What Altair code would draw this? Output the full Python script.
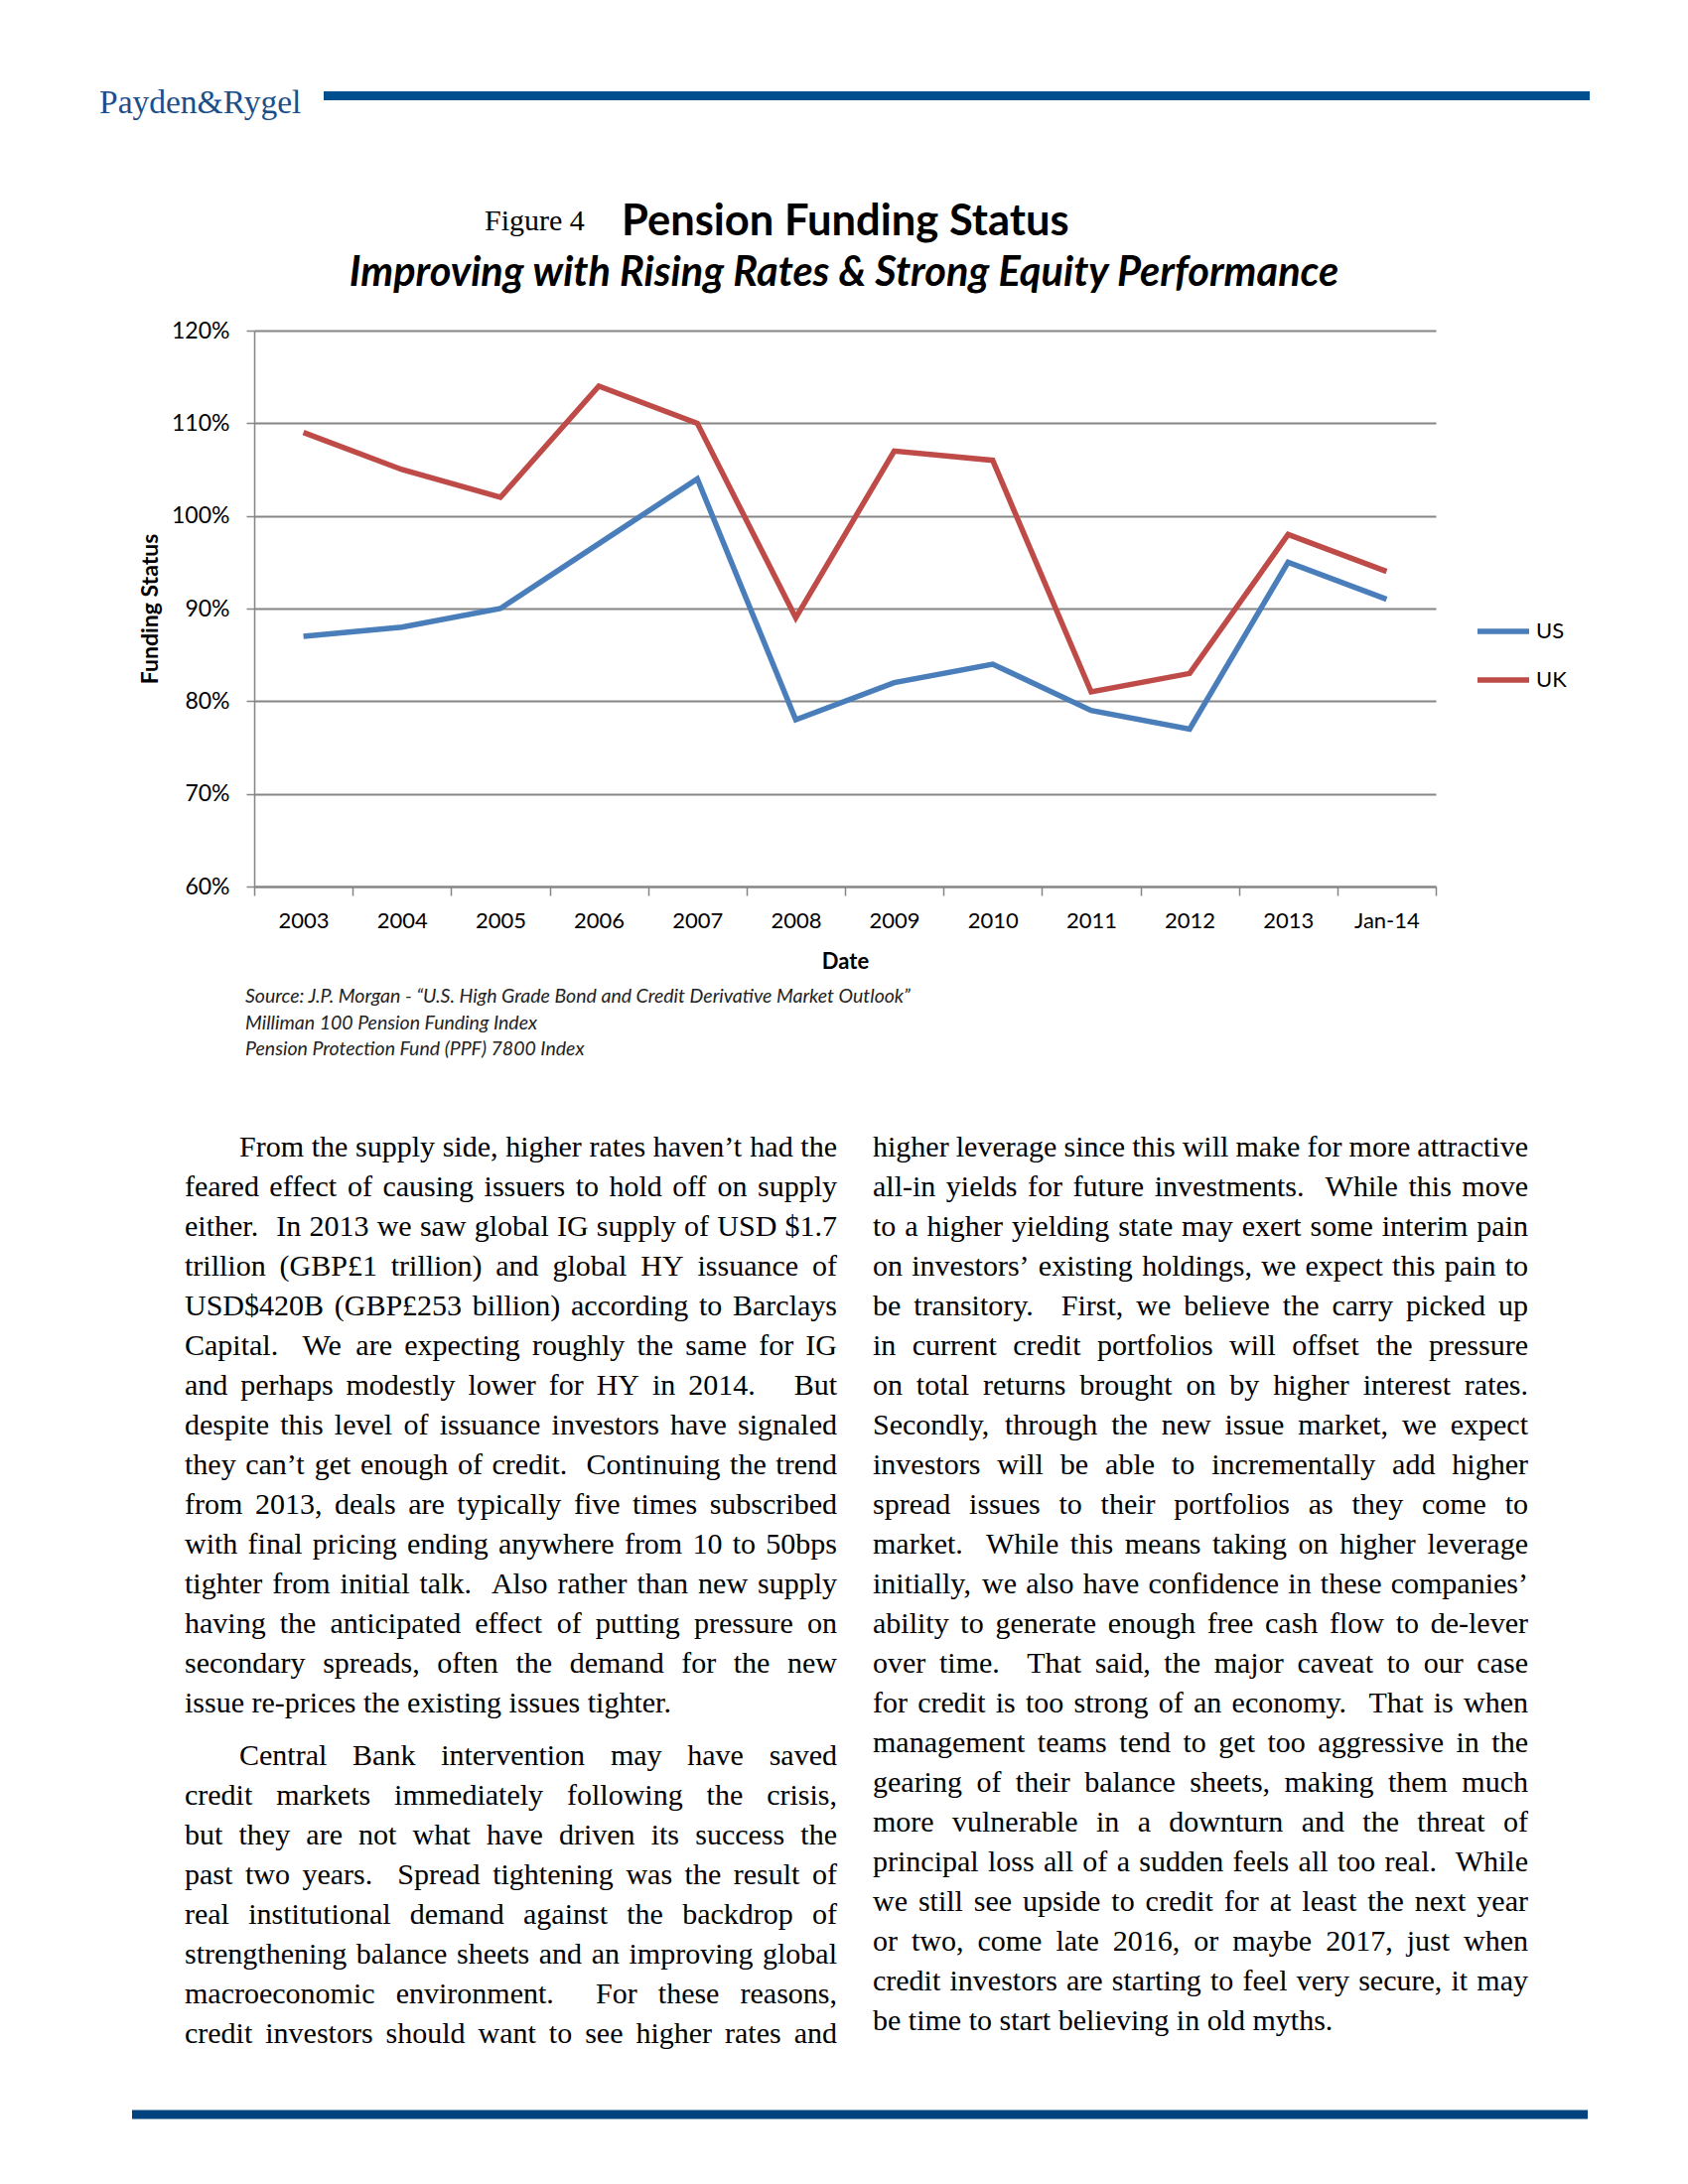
import re
import altair as alt
import pandas as pd

# ---------------- data ----------------
years = ["2003", "2004", "2005", "2006", "2007", "2008", "2009", "2010",
         "2011", "2012", "2013", "Jan-14"]
us = [87, 88, 90, 97, 104, 78, 82, 84, 79, 77, 95, 91]
uk = [109, 105, 102, 114, 110, 89, 107, 106, 81, 83, 98, 94]
series_names = ["US", "UK"]
y_ticks = [60, 70, 80, 90, 100, 110, 120]

logo_text = "Payden&Rygel"
figure_label = "Figure 4"
title_text = "Pension Funding Status"
subtitle_text = "Improving with Rising Rates & Strong Equity Performance"
x_title = "Date"
y_title = "Funding Status"
source_lines = [
    "Source: J.P. Morgan - \u201cU.S. High Grade Bond and Credit Derivative Market Outlook\u201d",
    "Milliman 100 Pension Funding Index",
    "Pension Protection Fund (PPF) 7800 Index",
]

left_par1 = [
    "From the supply side, higher rates haven\u2019t had the",
    "feared effect of causing issuers to hold off on supply",
    "either.  In 2013 we saw global IG supply of USD $1.7",
    "trillion (GBP\u00a31 trillion) and global HY issuance of",
    "USD$420B (GBP\u00a3253 billion) according to Barclays",
    "Capital.  We are expecting roughly the same for IG",
    "and perhaps modestly lower for HY in 2014.   But",
    "despite this level of issuance investors have signaled",
    "they can\u2019t get enough of credit.  Continuing the trend",
    "from 2013, deals are typically five times subscribed",
    "with final pricing ending anywhere from 10 to 50bps",
    "tighter from initial talk.  Also rather than new supply",
    "having the anticipated effect of putting pressure on",
    "secondary spreads, often the demand for the new",
    "issue re-prices the existing issues tighter.",
]
left_par2 = [
    "Central Bank intervention may have saved",
    "credit markets immediately following the crisis,",
    "but they are not what have driven its success the",
    "past two years.  Spread tightening was the result of",
    "real institutional demand against the backdrop of",
    "strengthening balance sheets and an improving global",
    "macroeconomic environment.  For these reasons,",
    "credit investors should want to see higher rates and",
]
right_par2 = [
    "higher leverage since this will make for more attractive",
    "all-in yields for future investments.  While this move",
    "to a higher yielding state may exert some interim pain",
    "on investors\u2019 existing holdings, we expect this pain to",
    "be transitory.  First, we believe the carry picked up",
    "in current credit portfolios will offset the pressure",
    "on total returns brought on by higher interest rates.",
    "Secondly, through the new issue market, we expect",
    "investors will be able to incrementally add higher",
    "spread issues to their portfolios as they come to",
    "market.  While this means taking on higher leverage",
    "initially, we also have confidence in these companies\u2019",
    "ability to generate enough free cash flow to de-lever",
    "over time.  That said, the major caveat to our case",
    "for credit is too strong of an economy.  That is when",
    "management teams tend to get too aggressive in the",
    "gearing of their balance sheets, making them much",
    "more vulnerable in a downturn and the threat of",
    "principal loss all of a sudden feels all too real.  While",
    "we still see upside to credit for at least the next year",
    "or two, come late 2016, or maybe 2017, just when",
    "credit investors are starting to feel very secure, it may",
    "be time to start believing in old myths.",
]

# ---------------- styles / layout ----------------
BLUE = "#4A7EBB"
RED = "#BE4B48"
GRID = "#858585"
NAVY = "#00508F"
NAVY2 = "#00437F"
SANS = "Lato"
SERIF = "Liberation Serif"

OX, OY = 256, 333          # page position of the plot origin
W, H = 1190, 560           # plot area

# Times / Liberation Serif advance widths (em)
CW = {" ": .25, "a": .444, "b": .5, "c": .444, "d": .5, "e": .444, "f": .333,
      "g": .5, "h": .5, "i": .278, "j": .278, "k": .5, "l": .278, "m": .778,
      "n": .5, "o": .5, "p": .5, "q": .5, "r": .333, "s": .389, "t": .278,
      "u": .5, "v": .5, "w": .722, "x": .5, "y": .5, "z": .444,
      "A": .722, "B": .667, "C": .667, "D": .722, "E": .611, "F": .556,
      "G": .722, "H": .722, "I": .333, "J": .389, "K": .722, "L": .611,
      "M": .889, "N": .722, "O": .722, "P": .556, "Q": .722, "R": .667,
      "S": .556, "T": .611, "U": .722, "V": .722, "W": .944, "X": .722,
      "Y": .722, "Z": .611, ".": .25, ",": .25, "-": .333, "\u2019": .333,
      "'": .18, "$": .5, "\u00a3": .5, "(": .333, ")": .333, "&": .778,
      ":": .278, ";": .278}


def em(s):
    return sum(CW.get(c, .5) for c in s)


cols = [
    # (x_left, x_right, [(lines, indent, last_line_is_final)])
    (186, 843, [(left_par1, 55, True), (left_par2, 55, False)]),
    (879, 1539, [(right_par2, 0, True)]),
]
BASE0, STEP, PGAP = 1165, 40, 13

# font size so that all justified lines fit their column
fs = 30.0
for xl, xr, pars in cols:
    for lines_, ind, final in pars:
        for i, ln in enumerate(lines_):
            if final and i == len(lines_) - 1:
                continue
            toks = re.split(r"( +)", ln)
            words = toks[0::2]
            nsp = sum(len(t) for t in toks[1::2])
            avail = xr - xl - (ind if i == 0 else 0)
            fs = min(fs, avail / (sum(em(w) for w in words) + .17 * nsp))
fs = int(fs * 2) / 2.0

rows = []
for xl, xr, pars in cols:
    y = BASE0
    for pi, (lines_, ind, final) in enumerate(pars):
        if pi > 0:
            y += PGAP
        for i, ln in enumerate(lines_):
            toks = re.split(r"( +)", ln)
            words = toks[0::2]
            gaps = [len(t) for t in toks[1::2]]
            x0 = xl + (ind if i == 0 else 0)
            wsum = sum(em(w) for w in words) * fs
            nsp = sum(gaps)
            sw = .25 * fs
            if not (final and i == len(lines_) - 1) and nsp > 0:
                sw = (xr - x0 - wsum) / nsp
            x = x0
            for k, w in enumerate(words):
                rows.append({"word": w, "px": x - OX, "py": y - OY})
                x += em(w) * fs
                if k < len(gaps):
                    x += gaps[k] * sw
            y += STEP
body_df = pd.DataFrame(rows)

# ---------------- chart ----------------
df = pd.DataFrame({
    "Date": years * 2,
    "Funding": us + uk,
    "Series": [series_names[0]] * len(years) + [series_names[1]] * len(years),
})

lines = alt.Chart(df).mark_line(strokeWidth=5.5).encode(
    x=alt.X("Date:O", sort=years, bandPosition=0.5,
            scale=alt.Scale(type="band", paddingInner=0, paddingOuter=0),
            axis=alt.Axis(title=x_title, titleFont=SANS, titleFontSize=22,
                          titleFontWeight="bold", titleColor="black",
                          titleY=75, titleBaseline="middle",
                          labelFont=SANS, labelFontSize=22, labelColor="black",
                          labelAngle=0, labelPadding=15, tickSize=9,
                          tickColor=GRID, tickWidth=1.5, domainColor=GRID,
                          domainWidth=2, tickBand="extent", grid=False,
                          labelFlush=False)),
    y=alt.Y("Funding:Q", scale=alt.Scale(domain=[60, 120], nice=False),
            axis=alt.Axis(title=y_title, titleFont=SANS, titleFontSize=23,
                          titleFontWeight="bold", titleColor="black",
                          titleX=-105, titleY=H / 2, titleAngle=270,
                          titleBaseline="middle", titleAlign="center",
                          values=y_ticks, labelExpr="datum.value + '%'",
                          labelFont=SANS, labelFontSize=23, labelColor="black",
                          labelPadding=17, tickSize=8, tickColor=GRID,
                          tickWidth=1.5, domainColor=GRID, domainWidth=1.5,
                          grid=True, gridColor=GRID, gridWidth=2.2)),
    color=alt.Color("Series:N", sort=series_names,
                    scale=alt.Scale(domain=series_names, range=[BLUE, RED]),
                    legend=alt.Legend(title=None, orient="none",
                                      legendX=1242, legendY=287,
                                      symbolType="M-2,0H2", symbolSize=676,
                                      symbolStrokeWidth=5.5, labelFont=SANS,
                                      labelFontSize=22, labelColor="black",
                                      labelOffset=17, rowPadding=22, padding=0,
                                      direction="vertical")),
)


def txt(t, x, y, **kw):
    align = kw.pop("align", "left")
    baseline = kw.pop("baseline", "alphabetic")
    return alt.Chart(pd.DataFrame({"t": [t]})).mark_text(
        align=align, baseline=baseline, **kw
    ).encode(x=alt.value(x - OX), y=alt.value(y - OY), text="t:N")


def bar(x1, x2, y, color, w):
    return alt.Chart(pd.DataFrame({"a": [0]})).mark_rule(
        color=color, strokeWidth=w
    ).encode(x=alt.value(x1 - OX), x2=alt.value(x2 - OX), y=alt.value(y - OY))


texts = [
    txt(logo_text, 100, 114, font=SERIF, fontSize=33.5, color="#1B4F8A"),
    txt(figure_label, 488, 232, font=SERIF, fontSize=30, color="black"),
    txt(title_text, 626, 237, font=SANS, fontSize=43.5, fontWeight="bold",
        color="black"),
    txt(subtitle_text, 850, 288, font=SANS, fontSize=41.5, fontWeight="bold",
        fontStyle="italic", color="black", align="center"),
]
for i, s in enumerate(source_lines):
    texts.append(txt(s, 247, 1010 + 26.5 * i, font=SANS, fontSize=19.5,
                     fontStyle="italic", color="#222222"))

body = alt.Chart(body_df).mark_text(
    font=SERIF, fontSize=fs, align="left", baseline="alphabetic", color="black"
).encode(
    x=alt.X("px:Q", scale=None, axis=None),
    y=alt.Y("py:Q", scale=None, axis=None),
    text="word:N",
)

bars = [bar(326, 1601, 96.5, NAVY, 9), bar(133, 1599, 2130, NAVY2, 9)]

chart = alt.layer(lines, body, *texts, *bars).resolve_scale(
    x="independent", y="independent"
).properties(
    width=W, height=H,
    padding={"left": OX - 8, "top": OY - 8, "right": 1684 - (OX - 8) - W,
             "bottom": 2176 - (OY - 8) - H},
    autosize=alt.AutoSizeParams(type="none"),
    background="white",
).configure_view(stroke=None)

chart.save("out.html", embed_options={"renderer": "svg", "actions": False})
